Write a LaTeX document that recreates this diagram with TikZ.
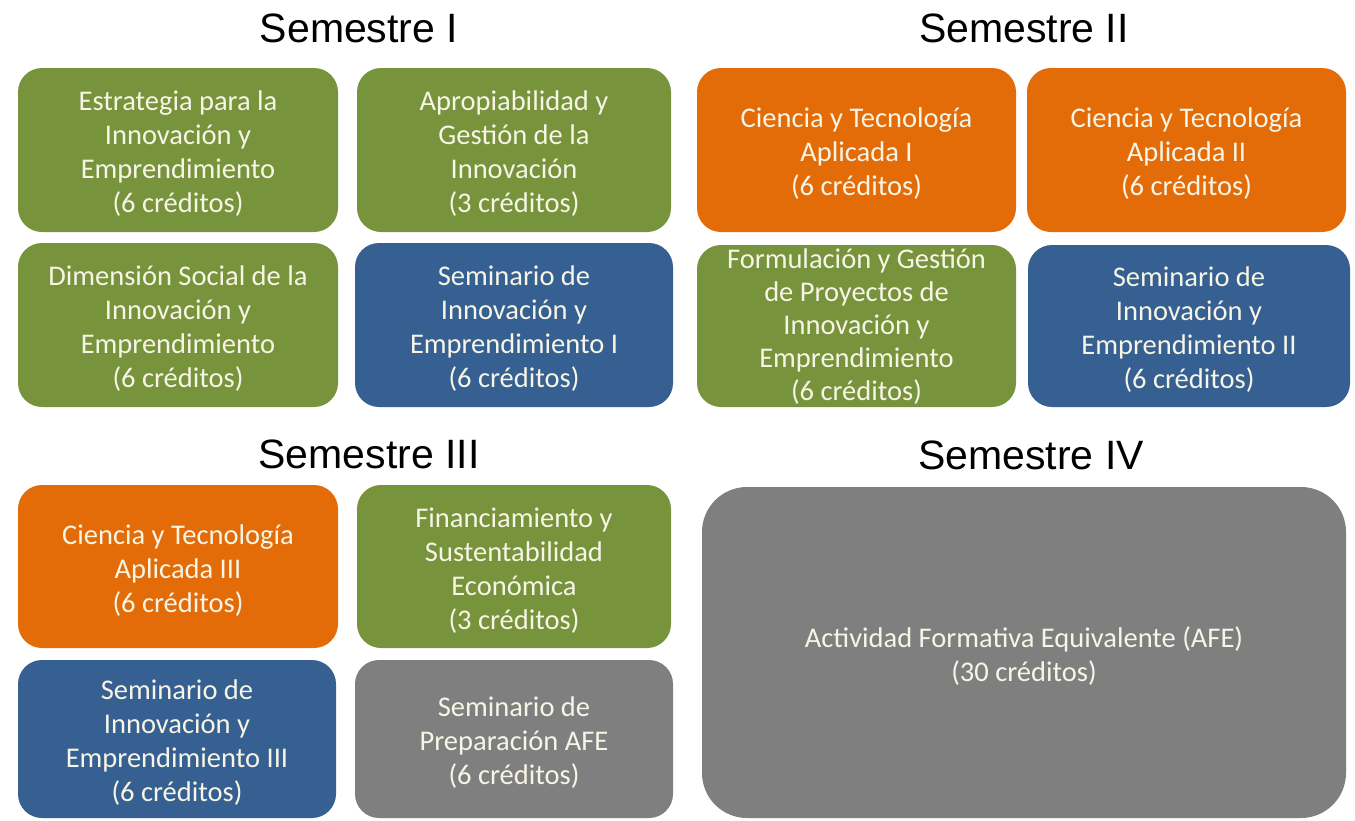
\documentclass[tikz,border=0pt]{standalone}
\usepackage{fontspec}
\setmainfont{Carlito}
\newfontfamily\titlefont{Liberation Sans}
\definecolor{cgreen}{HTML}{77933C}
\definecolor{corange}{HTML}{E36C09}
\definecolor{cblue}{HTML}{366092}
\definecolor{cgray}{HTML}{7F7F7F}
\definecolor{ctext}{HTML}{F7F5E6}
\begin{document}
\begin{tikzpicture}[x=1pt,y=-1pt,
  box/.style={rounded corners=24pt, inner sep=0pt},
  txt/.style={inner sep=0pt, align=center, text=ctext, yshift=-4pt,
    font=\fontsize{28.5}{34}\selectfont},
  sem/.style={inner sep=0pt, font=\titlefont\fontsize{41}{48}\selectfont, text=black}]
\useasboundingbox[fill=white] (0,0) rectangle (1355,820);
% titles
\node[sem] (t1) at (359,28) {Semestre I};
\node[sem] (t2) at (1024,28) {Semestre II};
\node[sem] (t3) at (369,454) {Semestre III};
\node[sem] (t4) at (1031,455) {Semestre IV};
% boxes
\node[box, fill=cgreen, minimum width=320pt, minimum height=164pt] (a) at (178,150) {};
\node[box, fill=cgreen, minimum width=314pt, minimum height=164pt] (b) at (514,150) {};
\node[box, fill=cgreen, minimum width=320pt, minimum height=164pt] (e) at (178,325) {};
\node[box, fill=cblue, minimum width=318pt, minimum height=164pt] (f) at (514,325) {};
\node[box, fill=corange, minimum width=319pt, minimum height=164pt] (c) at (856.5,150) {};
\node[box, fill=corange, minimum width=319pt, minimum height=164pt] (d) at (1186.5,150) {};
\node[box, fill=cgreen, minimum width=319pt, minimum height=162pt] (g) at (856.5,326) {};
\node[box, fill=cblue, minimum width=322pt, minimum height=162pt] (h) at (1189,326) {};
\node[box, fill=corange, minimum width=320pt, minimum height=163pt] (i) at (178,566.5) {};
\node[box, fill=cgreen, minimum width=314pt, minimum height=163pt] (j) at (514,566.5) {};
\node[box, fill=cblue, minimum width=318pt, minimum height=158pt] (k) at (177,739) {};
\node[box, fill=cgray, minimum width=318pt, minimum height=158pt] (l) at (514,739) {};
\node[box, rounded corners=45pt, fill=cgray, minimum width=644pt, minimum height=331pt] (m) at (1024,652.5) {};
% texts
\node[txt] (at) at (a) {Estrategia para la\\Innovación y\\Emprendimiento\\(6 créditos)};
\node[txt] (bt) at (b) {Apropiabilidad y\\Gestión de la\\Innovación\\(3 créditos)};
\node[txt] (et) at (e) {Dimensión Social de la\\Innovación y\\Emprendimiento\\(6 créditos)};
\node[txt] (ft) at (f) {Seminario de\\Innovación y\\Emprendimiento I\\(6 créditos)};
\node[txt] (ct) at (c) {Ciencia y Tecnología\\Aplicada I\\(6 créditos)};
\node[txt] (dt) at (d) {Ciencia y Tecnología\\Aplicada II\\(6 créditos)};
\node[txt, yshift=3pt, font=\fontsize{28.5}{33}\selectfont] (gt) at (g)
  {Formulación y Gestión\\de Proyectos de\\Innovación y\\Emprendimiento\\(6 créditos)};
\node[txt] (ht) at (h) {Seminario de\\Innovación y\\Emprendimiento II\\(6 créditos)};
\node[txt] (it) at (i) {Ciencia y Tecnología\\Aplicada III\\(6 créditos)};
\node[txt] (jt) at (j) {Financiamiento y\\Sustentabilidad\\Económica\\(3 créditos)};
\node[txt] (kt) at (k) {Seminario de\\Innovación y\\Emprendimiento III\\(6 créditos)};
\node[txt] (lt) at (l) {Seminario de\\Preparación AFE\\(6 créditos)};
\node[txt] (mt) at (m) {Actividad Formativa Equivalente (AFE)\\(30 créditos)};
\end{tikzpicture}
\end{document}
